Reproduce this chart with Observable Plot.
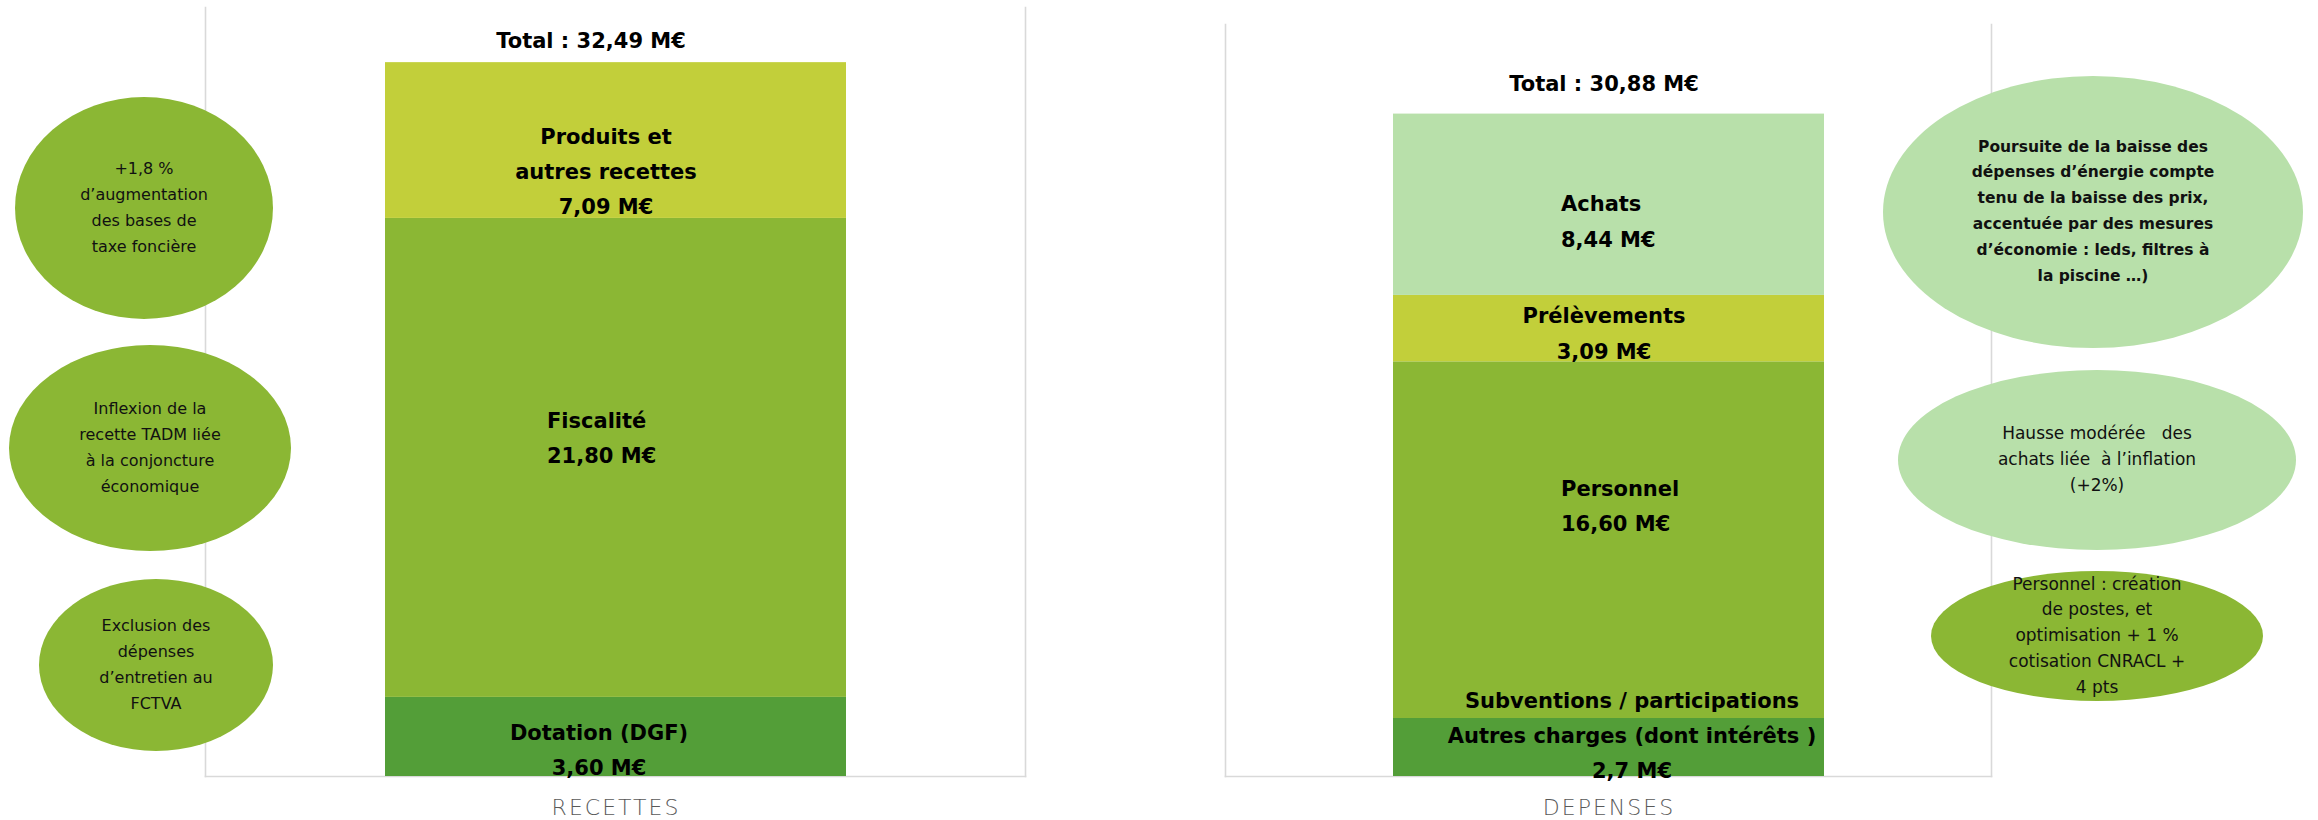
<!DOCTYPE html>
<html>
<head>
<meta charset="utf-8">
<script src="https://cdn.jsdelivr.net/npm/d3@7"></script>
<script src="https://cdn.jsdelivr.net/npm/@observablehq/plot@0.6"></script>
<style>
  html, body { margin: 0; padding: 0; background: #ffffff; }
  #chart { position: relative; width: 2318px; height: 820px; overflow: hidden; font-family: "DejaVu Sans", sans-serif; }
  .panel { position: absolute; top: 0; }
  .panel svg [aria-label="x-axis tick label"] text { letter-spacing: 2px; }
  .bubble {
    position: absolute; border-radius: 50%;
    display: flex; align-items: center; justify-content: center;
    text-align: center; color: #111; white-space: pre; line-height: 25.8px;
    font-family: "DejaVu Sans", sans-serif;
  }
</style>
</head>
<body>
<div id="chart"></div>
<script>
// ---------- DATA ----------
const recettesGroup = "RECETTES";
const recettesCategories = ["Dotation (DGF)", "Fiscalité", "Produits et autres recettes"];
const recettesValues = [3.60, 21.80, 7.09];
const recettesLabels = ["Dotation (DGF)\n3,60 M€", "Fiscalité\n21,80 M€", "Produits et\nautres recettes\n7,09 M€"];
const recettesTotal = 32.49;
const recettesTotalLabel = "Total : 32,49 M€";

const depensesGroup = "DEPENSES";
const depensesCategories = ["Subventions / participations – Autres charges", "Personnel", "Prélèvements", "Achats"];
const depensesValues = [2.7, 16.60, 3.09, 8.44];
const depensesLabels = ["Subventions / participations\nAutres charges (dont intérêts )\n2,7 M€", "Personnel\n16,60 M€", "Prélèvements\n3,09 M€", "Achats\n8,44 M€"];
const depensesTotal = 30.88;
const depensesTotalLabel = "Total : 30,88 M€";

const recettesNotes = [
  "+1,8 %\nd’augmentation\ndes bases de\ntaxe foncière",
  "Inflexion de la\nrecette TADM liée\nà la conjoncture\néconomique",
  "Exclusion des\ndépenses\nd’entretien au\nFCTVA"
];
const depensesNotes = [
  "Poursuite de la baisse des\ndépenses d’énergie compte\ntenu de la baisse des prix,\naccentuée par des mesures\nd’économie : leds, filtres à\nla piscine …)",
  "Hausse modérée   des\nachats liée  à l’inflation\n(+2%)",
  "Personnel : création\nde postes, et\noptimisation + 1 %\ncotisation CNRACL +\n4 pts"
];

// ---------- STYLE / LAYOUT ----------
const colorDomain = ["dark", "mid", "yellow", "light"];
const colorRange = ["#539e38", "#8bb734", "#c2cf3a", "#b8e0aa"];
const recettesTones = ["dark", "mid", "yellow"];
const depensesTones = ["dark", "mid", "yellow", "light"];

const recettesLabelOffsets = [
  {dx: -17, dy: 9, anchor: "middle"},
  {dx: -69, dy: -24, anchor: "start"},
  {dx: -10, dy: 27, anchor: "middle"}
];
const depensesLabelOffsets = [
  {dx: 23, dy: -16, anchor: "middle"},
  {dx: -48, dy: -38, anchor: "start"},
  {dx: -5, dy: 1, anchor: "middle"},
  {dx: -48, dy: 13, anchor: "start"}
];

function panel({group, categories, values, labels, tones, total, totalLabel, offsets, totalOffset,
                left, width, marginLeft, marginRight, marginTop}) {
  const ends = d3.cumsum(values);
  const rows = categories.map((c, i) => ({
    group, category: c, value: values[i], label: labels[i], tone: tones[i],
    mid: ends[i] - values[i] / 2
  }));
  const labelMarks = rows.map((r, i) => Plot.text([r], {
    x: "group", y: "mid", text: "label",
    dx: offsets[i].dx, dy: offsets[i].dy, textAnchor: offsets[i].anchor,
    fontSize: 21, fontWeight: "bold", fill: "#000", lineHeight: 1.68
  }));
  const plot = Plot.plot({
    width, height: 820,
    marginLeft, marginRight, marginTop, marginBottom: 44,
    style: {fontFamily: "DejaVu Sans, sans-serif", background: "transparent", overflow: "visible"},
    x: {domain: [group], padding: 0.28, label: null},
    y: {domain: [0, 35], axis: null},
    color: {domain: colorDomain, range: colorRange},
    marks: [
      Plot.frame({anchor: "left", stroke: "#d9d9d9", strokeWidth: 1.6}),
      Plot.frame({anchor: "right", stroke: "#d9d9d9", strokeWidth: 1.6}),
      Plot.frame({anchor: "bottom", stroke: "#d9d9d9", strokeWidth: 1.6}),
      Plot.barY(rows, Plot.stackY({x: "group", y: "value", fill: "tone"})),
      ...labelMarks,
      Plot.text([{group, total, label: totalLabel}], {
        x: "group", y: "total", text: "label",
        dx: totalOffset.dx, dy: totalOffset.dy,
        fontSize: 21, fontWeight: "bold", fill: "#000"
      }),
      Plot.axisX({tickSize: 0, tickPadding: 23, fontSize: 22, fill: "#595959", fontWeight: 300, label: null})
    ]
  });
  const div = document.createElement("div");
  div.className = "panel";
  div.style.left = left + "px";
  div.appendChild(plot);
  return div;
}

const chart = document.getElementById("chart");
chart.appendChild(panel({
  group: recettesGroup, categories: recettesCategories, values: recettesValues, labels: recettesLabels,
  tones: recettesTones, total: recettesTotal, totalLabel: recettesTotalLabel,
  offsets: recettesLabelOffsets, totalOffset: {dx: -25, dy: -21},
  left: 0, width: 1110, marginLeft: 205, marginRight: 85, marginTop: 7
}));
chart.appendChild(panel({
  group: depensesGroup, categories: depensesCategories, values: depensesValues, labels: depensesLabels,
  tones: depensesTones, total: depensesTotal, totalLabel: depensesTotalLabel,
  offsets: depensesLabelOffsets, totalOffset: {dx: -5, dy: -29},
  left: 1110, width: 1208, marginLeft: 115, marginRight: 327, marginTop: 24
}));

// ---------- annotation bubbles ----------
const bubbleLayout = [
  {cx: 144, cy: 208, rx: 129, ry: 111, bg: "#8bb734", size: 16, weight: "normal"},
  {cx: 150, cy: 448, rx: 141, ry: 103, bg: "#8bb734", size: 16, weight: "normal"},
  {cx: 156, cy: 665, rx: 117, ry: 86, bg: "#8bb734", size: 16, weight: "normal"},
  {cx: 2093, cy: 212, rx: 210, ry: 136, bg: "#b8e0aa", size: 15.5, weight: "bold"},
  {cx: 2097, cy: 460, rx: 199, ry: 90, bg: "#b8e0aa", size: 17, weight: "normal"},
  {cx: 2097, cy: 636, rx: 166, ry: 65, bg: "#8bb734", size: 17, weight: "normal"}
];
const notes = [...recettesNotes, ...depensesNotes];
notes.forEach((t, i) => {
  const b = bubbleLayout[i];
  const d = document.createElement("div");
  d.className = "bubble";
  d.style.left = (b.cx - b.rx) + "px";
  d.style.top = (b.cy - b.ry) + "px";
  d.style.width = (2 * b.rx) + "px";
  d.style.height = (2 * b.ry) + "px";
  d.style.background = b.bg;
  d.style.fontSize = b.size + "px";
  d.style.fontWeight = b.weight;
  d.textContent = t;
  chart.appendChild(d);
});
</script>
</body>
</html>
